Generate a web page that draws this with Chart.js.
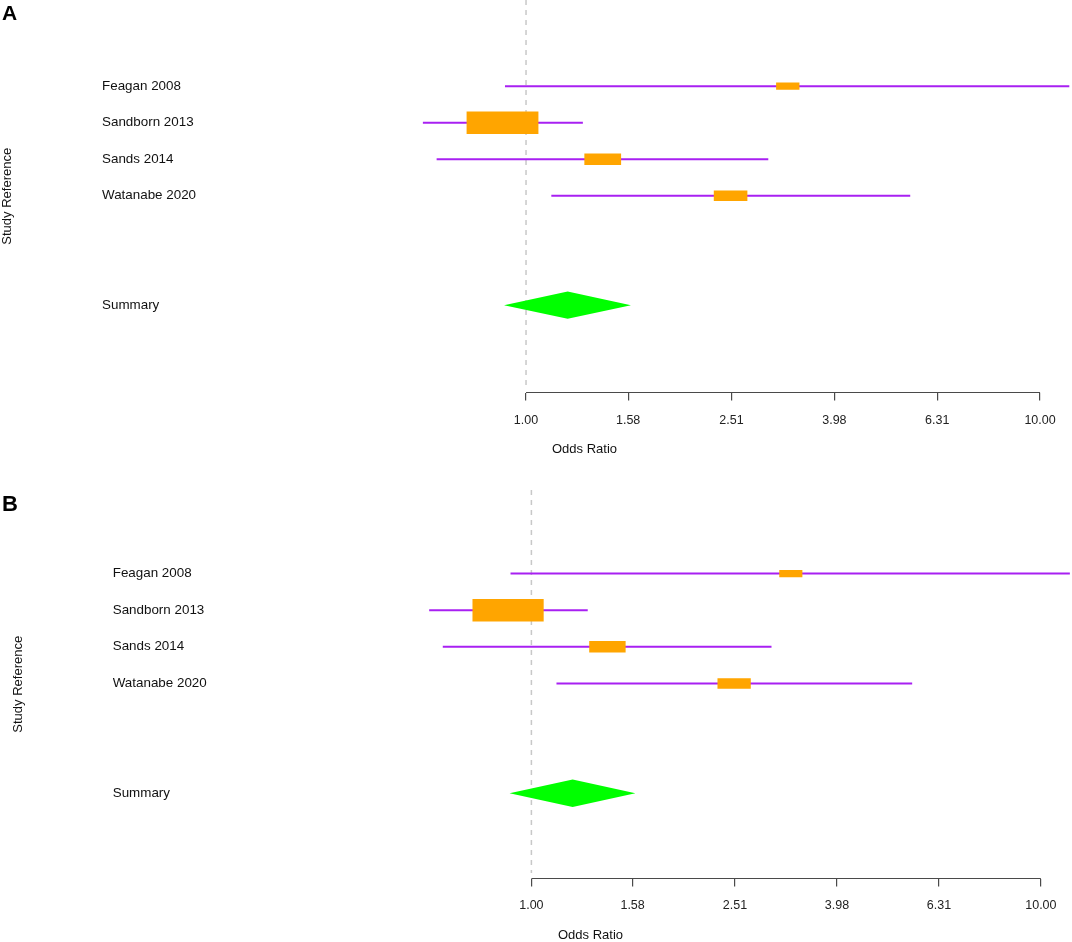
<!DOCTYPE html>
<html>
<head>
<meta charset="utf-8">
<script src="https://cdn.jsdelivr.net/npm/chart.js@4.4.1/dist/chart.umd.min.js"></script>
<style>
  html, body { margin: 0; padding: 0; background: #fff; }
  body { width: 1072px; height: 942px; overflow: hidden; font-family: "Liberation Sans", Arial, sans-serif; }
  .panel { position: relative; width: 1072px; }
  .panel canvas { position: absolute; left: 0; top: 0; }
  .letter { position: absolute; font-weight: bold; line-height: 1; color: #000; }
  .xlab { position: absolute; font-size: 13px; line-height: 15px; color: #111; white-space: nowrap; }
</style>
</head>
<body>
<div class="panel" id="panelA" style="height:470px">
  <canvas id="forestA"></canvas>
  <div class="letter" style="left:2px; top:2px; font-size:21px">A</div>
  <div class="xlab" style="left:552px; top:441px">Odds Ratio</div>
</div>
<div class="panel" id="panelB" style="height:472px">
  <canvas id="forestB"></canvas>
  <div class="letter" style="left:2px; top:23px; font-size:22px">B</div>
  <div class="xlab" style="left:558px; top:457px">Odds Ratio</div>
</div>

<script>
// data (both panels show the same studies)
const studies = ["Feagan 2008", "Sandborn 2013", "Sands 2014", "Watanabe 2020"];
const oddsRatio = [3.23, 0.90, 1.41, 2.50];
const ciLower = [0.91, 0.63, 0.67, 1.12];
const ciUpper = [11.4, 1.29, 2.96, 5.59];
const weights = [14.1, 43.4, 22.2, 20.3];

const summaryLabel = "Summary";
const summaryOR = 1.205;
const summaryLower = 0.906;
const summaryUpper = 1.60;

const tickValues = [1.00, 1.58, 2.51, 3.98, 6.31, 10.00];
const nullValue = 1;

// styling
const PURPLE = "#a820f2";
const ORANGE = "#ffa500";
const GREEN = "#00ff00";
const BOX_W = 0.00161; // half width of a box, log10 units per weight
const BOX_H = 0.0071;  // half height of a box, rows per weight
const DIAMOND_H = 0.374;

Chart.defaults.font.family = '"Liberation Sans", Arial, sans-serif';
Chart.defaults.color = "#111";

const summaryRow = studies.length + 3;
const rowValues = studies.map((s, i) => i + 1).concat([summaryRow]);
const rowLabels = studies.concat([summaryLabel]);

function buildDatasets(yMin, yMax) {
  const sets = [];

  // null effect reference line
  sets.push({
    data: [{ x: nullValue, y: yMin }, { x: nullValue, y: yMax - 0.15 }],
    borderColor: "#c8c8c8",
    borderWidth: 1.5,
    borderDash: [5, 5],
    order: 5,
  });

  // axis line, only between first and last tick
  sets.push({
    data: [{ x: tickValues[0], y: yMax }, { x: tickValues[tickValues.length - 1], y: yMax }],
    borderColor: "#4a4a4a",
    borderWidth: 1.2,
    clip: false,
    order: 4,
  });

  studies.forEach((s, i) => {
    const row = i + 1;
    sets.push({
      data: [{ x: ciLower[i], y: row }, { x: ciUpper[i], y: row }],
      borderColor: PURPLE,
      borderWidth: 2,
      order: 3,
    });

    const hw = Math.pow(10, weights[i] * BOX_W);
    const hh = weights[i] * BOX_H;
    const x0 = oddsRatio[i] / hw;
    const x1 = oddsRatio[i] * hw;
    sets.push({
      data: [
        { x: x0, y: row - hh },
        { x: x1, y: row - hh },
        { x: x1, y: row + hh },
        { x: x0, y: row + hh },
        { x: x0, y: row - hh },
      ],
      borderColor: "rgba(0,0,0,0)",
      backgroundColor: ORANGE,
      fill: "shape",
      order: 2,
    });
  });

  sets.push({
    data: [
      { x: summaryLower, y: summaryRow },
      { x: summaryOR, y: summaryRow - DIAMOND_H },
      { x: summaryUpper, y: summaryRow },
      { x: summaryOR, y: summaryRow + DIAMOND_H },
      { x: summaryLower, y: summaryRow },
    ],
    borderColor: "rgba(0,0,0,0)",
    backgroundColor: GREEN,
    fill: "shape",
    order: 1,
  });

  sets.forEach((d) => {
    d.showLine = true;
    d.pointRadius = 0;
    d.pointHoverRadius = 0;
  });
  return sets;
}

function initializeForest(canvasId, p) {
  const canvas = document.getElementById(canvasId);
  if (!canvas) return;
  canvas.parentNode.style.height = p.height + "px";

  new Chart(canvas.getContext("2d"), {
    type: "scatter",
    data: { datasets: buildDatasets(p.yMin, p.yMax) },
    options: {
      responsive: true,
      maintainAspectRatio: false,
      animation: false,
      events: [],
      layout: { padding: { top: p.padTop, left: p.padLeft, right: 0, bottom: 0 } },
      plugins: {
        legend: { display: false },
        tooltip: { enabled: false },
      },
      scales: {
        x: {
          type: "logarithmic",
          position: "bottom",
          min: p.xMin,
          max: p.xMax,
          bounds: "data",
          afterBuildTicks: (scale) => {
            scale.ticks = tickValues.map((v) => ({ value: v }));
          },
          afterFit: (scale) => {
            scale.height = p.axisHeight;
            scale.paddingLeft = 0;
            scale.paddingRight = 0;
          },
          ticks: {
            autoSkip: false,
            maxRotation: 0,
            padding: p.tickPad,
            color: "#222",
            font: { size: 12.5 },
            callback: (v) => Number(v).toFixed(2),
          },
          grid: {
            drawOnChartArea: false,
            drawTicks: true,
            tickLength: 8,
            color: "#4a4a4a",
            lineWidth: 1.2,
          },
          border: { display: false },
        },
        y: {
          type: "linear",
          position: "left",
          reverse: true,
          min: p.yMin,
          max: p.yMax,
          bounds: "data",
          afterBuildTicks: (scale) => {
            scale.ticks = rowValues.map((v) => ({ value: v }));
          },
          afterFit: (scale) => {
            scale.width = p.labelWidth;
            scale.paddingTop = 0;
            scale.paddingBottom = 0;
          },
          ticks: {
            crossAlign: "far",
            padding: 0,
            color: "#111",
            font: { size: 13.4 },
            callback: (v) => rowLabels[rowValues.indexOf(v)] || "",
          },
          grid: { display: false },
          border: { display: false },
        },
        yt: {
          type: "linear",
          position: "left",
          weight: 10,
          afterFit: (scale) => {
            scale.width = p.titleWidth;
          },
          ticks: { display: false },
          grid: { display: false },
          border: { display: false },
          title: {
            display: true,
            text: "Study Reference",
            color: "#111",
            font: { size: 13 },
            padding: { top: 0, bottom: 0 },
          },
        },
      },
    },
  });
}

document.addEventListener("DOMContentLoaded", function () {
  initializeForest("forestA", {
    height: 470, padTop: 0, padLeft: 0,
    xMin: 0.5199, xMax: 11.538,
    yMin: -1.362, yMax: 9.392,
    axisHeight: 77.5, tickPad: 13,
    titleWidth: 102, labelWidth: 278,
  });
  initializeForest("forestB", {
    height: 472, padTop: 20, padLeft: 11,
    xMin: 0.5302, xMax: 11.511,
    yMin: -1.284, yMax: 9.33,
    axisHeight: 63.5, tickPad: 12,
    titleWidth: 101.7, labelWidth: 278.3,
  });
});
</script>
</body>
</html>
